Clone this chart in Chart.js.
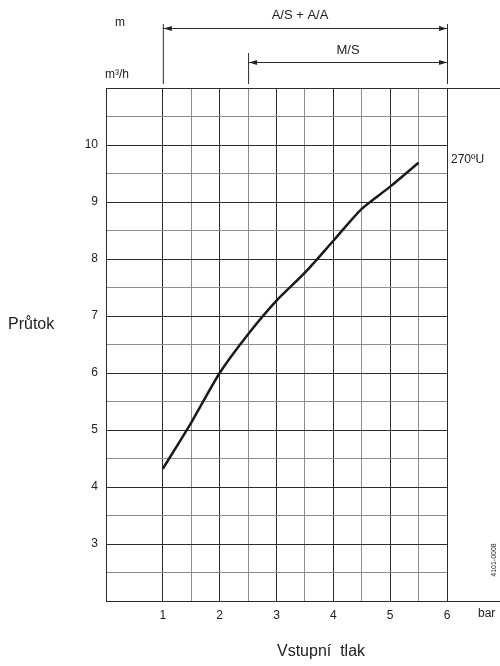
<!DOCTYPE html>
<html>
<head>
<meta charset="utf-8">
<script src="https://cdn.jsdelivr.net/npm/chart.js@4.4.1/dist/chart.umd.min.js"></script>
<style>
  html, body { margin: 0; padding: 0; background: #fff; overflow: hidden; }
  #wrap { width: 500px; height: 666px; }
</style>
</head>
<body>
<div id="wrap"><canvas id="chart" width="500" height="666"></canvas></div>
<script>
// Data
const pressure = [1, 1.5, 2, 2.5, 3, 3.5, 4, 4.5, 5, 5.5];        // bar
const flow     = [4.32, 5.13, 6.0, 6.68, 7.27, 7.76, 8.32, 8.88, 9.27, 9.69]; // m3/h
const xTickLabels = [1, 2, 3, 4, 5, 6];
const yTickLabels = [3, 4, 5, 6, 7, 8, 9, 10];
const xGrid = [0, 1, 1.5, 2, 2.5, 3, 3.5, 4, 4.5, 5, 5.5, 6];
const yGrid = [2, 2.5, 3, 3.5, 4, 4.5, 5, 5.5, 6, 6.5, 7, 7.5, 8, 8.5, 9, 9.5, 10, 10.5, 11];

const FONT = '"Liberation Sans", Arial, sans-serif';
const DARK = '#2b2b2b';
const GRAY = '#8c8c8c';

const gridColor = (ctx) => {
  const v = ctx.tick ? ctx.tick.value : null;
  if (v === null) return DARK;
  return Number.isInteger(v) ? DARK : GRAY;
};

// arrow helper
function arrowHead(ctx, x, y, dir) {
  ctx.beginPath();
  ctx.moveTo(x, y);
  ctx.lineTo(x - dir * 8, y - 2.5);
  ctx.lineTo(x - dir * 8, y + 2.5);
  ctx.closePath();
  ctx.fill();
}

const annotations = {
  id: 'annotations',
  afterDraw(chart) {
    const ctx = chart.ctx;
    const xs = chart.scales.x;
    const area = chart.chartArea;
    const x1 = xs.getPixelForValue(1);
    const x25 = xs.getPixelForValue(2.5);
    const x6 = xs.getPixelForValue(6);
    ctx.save();
    ctx.strokeStyle = DARK;
    ctx.fillStyle = '#222';
    ctx.lineWidth = 1;

    // top and bottom frame lines continue past 6 bar
    ctx.beginPath();
    ctx.moveTo(area.right, Math.round(area.top) + 0.5); ctx.lineTo(500, Math.round(area.top) + 0.5);
    ctx.moveTo(area.right, Math.round(area.bottom) + 0.5); ctx.lineTo(500, Math.round(area.bottom) + 0.5);
    // extension lines
    ctx.moveTo(x1 + 0.5, 24); ctx.lineTo(x1 + 0.5, area.top - 4);
    ctx.moveTo(x6 + 0.5, 24); ctx.lineTo(x6 + 0.5, area.top - 4);
    ctx.moveTo(x25 + 0.5, 53); ctx.lineTo(x25 + 0.5, area.top - 4);
    // arrows
    ctx.moveTo(x1, 28.5); ctx.lineTo(x6, 28.5);
    ctx.moveTo(x25, 62.5); ctx.lineTo(x6, 62.5);
    ctx.stroke();
    arrowHead(ctx, x1 + 1, 28.5, -1);
    arrowHead(ctx, x6, 28.5, 1);
    arrowHead(ctx, x25 + 1, 62.5, -1);
    arrowHead(ctx, x6, 62.5, 1);

    ctx.fillStyle = '#222';
    ctx.textBaseline = 'middle';
    ctx.textAlign = 'center';
    ctx.font = '13px ' + FONT;
    ctx.fillText('A/S + A/A', 300, 15);
    ctx.fillText('M/S', 348, 50);
    ctx.font = '12px ' + FONT;
    ctx.fillText('m', 120, 23);
    ctx.fillText('m³/h', 117, 75);

    ctx.textAlign = 'left';
    ctx.font = '12px ' + FONT;
    ctx.fillText('270ºU', 451, 160);
    ctx.fillText('bar', 478, 614);

    ctx.font = '16px ' + FONT;
    ctx.fillText('Průtok', 8, 325);
    ctx.textAlign = 'center';
    ctx.fillText('Vstupní  tlak', 321, 652);

    ctx.translate(494, 560);
    ctx.rotate(-Math.PI / 2);
    ctx.font = '7px ' + FONT;
    ctx.fillText('4101-0008', 0, 0);
    ctx.restore();
  }
};

new Chart(document.getElementById('chart'), {
  type: 'line',
  data: {
    datasets: [{
      data: pressure.map((p, i) => ({ x: p, y: flow[i] })),
      borderColor: '#1a1a1a',
      borderWidth: 2.5,
      pointRadius: 0,
      tension: 0.25,
      fill: false
    }]
  },
  options: {
    responsive: false,
    animation: false,
    layout: { padding: { top: 88, left: 0, right: 53, bottom: 0 } },
    plugins: { legend: { display: false }, tooltip: { enabled: false } },
    scales: {
      x: {
        type: 'linear',
        min: 0,
        max: 6,
        afterBuildTicks: (s) => { s.ticks = xGrid.map(v => ({ value: v })); },
        afterFit: (s) => { s.height = 65; },
        grid: { color: gridColor, lineWidth: 1, drawTicks: false },
        border: { color: DARK, width: 1 },
        ticks: {
          padding: 7,
          autoSkip: false,
          maxRotation: 0,
          color: '#222',
          font: { family: FONT, size: 12 },
          callback: (v) => xTickLabels.includes(v) ? String(v) : ''
        }
      },
      y: {
        type: 'linear',
        min: 2,
        max: 11,
        afterBuildTicks: (s) => { s.ticks = yGrid.map(v => ({ value: v })); },
        afterFit: (s) => { s.width = 106; },
        grid: { color: gridColor, lineWidth: 1, drawTicks: false },
        border: { color: DARK, width: 1 },
        ticks: {
          padding: 8,
          autoSkip: false,
          color: '#222',
          font: { family: FONT, size: 12 },
          callback: (v) => yTickLabels.includes(v) ? String(v) : ''
        }
      }
    }
  },
  plugins: [annotations]
});
</script>
</body>
</html>
